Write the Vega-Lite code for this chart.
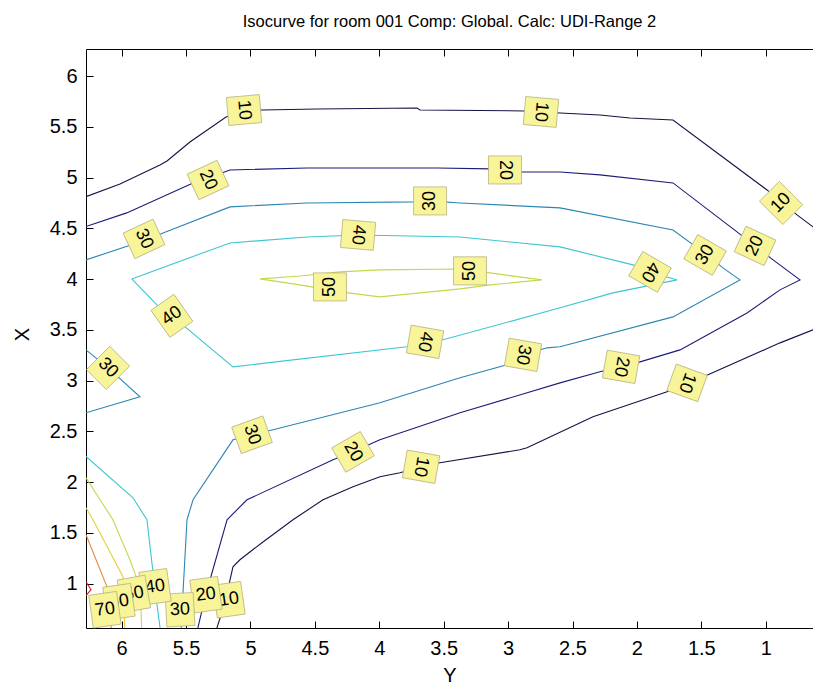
{
  "$schema": "https://vega.github.io/schema/vega-lite/v6.json",
  "width": 727,
  "height": 579,
  "autosize": {"type": "none"},
  "padding": {"left": 86, "top": 49, "right": 0, "bottom": 56},
  "background": "white",
  "config": {
    "view": {"stroke": null},
    "font": "Liberation Sans",
    "axis": {"grid": false, "domainColor": "black", "tickColor": "black", "labelColor": "black", "titleColor": "black", "titleFontWeight": "normal", "labelFont": "Liberation Sans", "titleFont": "Liberation Sans"}
  },
  "title": {"text": "Isocurve for room 001 Comp: Global. Calc: UDI-Range 2", "fontSize": 16.5, "fontWeight": "normal", "color": "black", "anchor": "middle", "baseline": "alphabetic", "offset": 5},
  "datasets": {
    "lines": [
      {"seg":"10a","level":10,"i":0,"Y":6.277,"X":4.812},{"seg":"10a","level":10,"i":1,"Y":6.013,"X":4.937},{"seg":"10a","level":10,"i":2,"Y":5.703,"X":5.124},{"seg":"10a","level":10,"i":3,"Y":5.648,"X":5.163},{"seg":"10a","level":10,"i":4,"Y":5.470,"X":5.350},{"seg":"10a","level":10,"i":5,"Y":5.190,"X":5.596},{"seg":"10a","level":10,"i":6,"Y":5.050,"X":5.656},{"seg":"10a","level":10,"i":7,"Y":4.911,"X":5.665},{"seg":"10a","level":10,"i":8,"Y":4.484,"X":5.675},{"seg":"10a","level":10,"i":9,"Y":3.707,"X":5.685},{"seg":"10a","level":10,"i":10,"Y":3.684,"X":5.665},{"seg":"10a","level":10,"i":11,"Y":2.869,"X":5.656},{"seg":"10a","level":10,"i":12,"Y":2.597,"X":5.636},{"seg":"10a","level":10,"i":13,"Y":2.287,"X":5.616},{"seg":"10a","level":10,"i":14,"Y":2.054,"X":5.587},{"seg":"10a","level":10,"i":15,"Y":1.720,"X":5.567},{"seg":"10a","level":10,"i":16,"Y":1.355,"X":5.222},{"seg":"10a","level":10,"i":17,"Y":0.990,"X":4.878},{"seg":"10a","level":10,"i":18,"Y":0.757,"X":4.632},{"seg":"10a","level":10,"i":19,"Y":0.633,"X":4.514},{"seg":"10a","level":10,"i":20,"Y":0.500,"X":4.387},
      {"seg":"10b","level":10,"i":0,"Y":0.501,"X":3.566},{"seg":"10b","level":10,"i":1,"Y":0.633,"X":3.500},{"seg":"10b","level":10,"i":2,"Y":0.889,"X":3.372},{"seg":"10b","level":10,"i":3,"Y":1.487,"X":3.037},{"seg":"10b","level":10,"i":4,"Y":1.611,"X":2.978},{"seg":"10b","level":10,"i":5,"Y":1.766,"X":2.890},{"seg":"10b","level":10,"i":6,"Y":2.341,"X":2.644},{"seg":"10b","level":10,"i":7,"Y":2.853,"X":2.339},{"seg":"10b","level":10,"i":8,"Y":2.908,"X":2.319},{"seg":"10b","level":10,"i":9,"Y":3.529,"X":2.191},{"seg":"10b","level":10,"i":10,"Y":3.676,"X":2.152},{"seg":"10b","level":10,"i":11,"Y":3.839,"X":2.093},{"seg":"10b","level":10,"i":12,"Y":3.995,"X":2.053},{"seg":"10b","level":10,"i":13,"Y":4.204,"X":1.955},{"seg":"10b","level":10,"i":14,"Y":4.437,"X":1.827},{"seg":"10b","level":10,"i":15,"Y":4.670,"X":1.630},{"seg":"10b","level":10,"i":16,"Y":4.911,"X":1.404},{"seg":"10b","level":10,"i":17,"Y":5.082,"X":1.236},{"seg":"10b","level":10,"i":18,"Y":5.136,"X":1.167},{"seg":"10b","level":10,"i":19,"Y":5.159,"X":1.039},{"seg":"10b","level":10,"i":20,"Y":5.190,"X":0.843},{"seg":"10b","level":10,"i":21,"Y":5.260,"X":0.567},{"seg":"10b","level":10,"i":22,"Y":5.276,"X":0.498},
      {"seg":"20a","level":20,"i":0,"Y":6.277,"X":4.517},{"seg":"20a","level":20,"i":1,"Y":5.961,"X":4.652},{"seg":"20a","level":20,"i":2,"Y":5.446,"X":4.947},{"seg":"20a","level":20,"i":3,"Y":5.330,"X":4.996},{"seg":"20a","level":20,"i":4,"Y":5.159,"X":5.075},{"seg":"20a","level":20,"i":5,"Y":4.561,"X":5.094},{"seg":"20a","level":20,"i":6,"Y":3.552,"X":5.094},{"seg":"20a","level":20,"i":7,"Y":3.141,"X":5.085},{"seg":"20a","level":20,"i":8,"Y":2.908,"X":5.055},{"seg":"20a","level":20,"i":9,"Y":2.597,"X":5.055},{"seg":"20a","level":20,"i":10,"Y":2.287,"X":5.026},{"seg":"20a","level":20,"i":11,"Y":1.720,"X":4.947},{"seg":"20a","level":20,"i":12,"Y":1.223,"X":4.465},{"seg":"20a","level":20,"i":13,"Y":1.083,"X":4.327},{"seg":"20a","level":20,"i":14,"Y":0.943,"X":4.189},{"seg":"20a","level":20,"i":15,"Y":0.734,"X":3.992},{"seg":"20a","level":20,"i":16,"Y":0.889,"X":3.894},{"seg":"20a","level":20,"i":17,"Y":1.145,"X":3.667},{"seg":"20a","level":20,"i":18,"Y":1.665,"X":3.303},{"seg":"20a","level":20,"i":19,"Y":1.976,"X":3.185},{"seg":"20a","level":20,"i":20,"Y":2.123,"X":3.136},{"seg":"20a","level":20,"i":21,"Y":2.287,"X":3.087},{"seg":"20a","level":20,"i":22,"Y":2.597,"X":2.978},{"seg":"20a","level":20,"i":23,"Y":3.373,"X":2.683},{"seg":"20a","level":20,"i":24,"Y":3.995,"X":2.417},{"seg":"20a","level":20,"i":25,"Y":4.204,"X":2.299},{"seg":"20a","level":20,"i":26,"Y":4.359,"X":2.220},{"seg":"20a","level":20,"i":27,"Y":5.027,"X":1.827},{"seg":"20a","level":20,"i":28,"Y":5.182,"X":1.630},{"seg":"20a","level":20,"i":29,"Y":5.314,"X":1.039},{"seg":"20a","level":20,"i":30,"Y":5.353,"X":0.862},{"seg":"20a","level":20,"i":31,"Y":5.408,"X":0.567},{"seg":"20a","level":20,"i":32,"Y":5.423,"X":0.498},
      {"seg":"30a","level":30,"i":0,"Y":6.277,"X":4.189},{"seg":"30a","level":30,"i":1,"Y":5.835,"X":4.376},{"seg":"30a","level":30,"i":2,"Y":5.679,"X":4.455},{"seg":"30a","level":30,"i":3,"Y":5.159,"X":4.711},{"seg":"30a","level":30,"i":4,"Y":4.561,"X":4.750},{"seg":"30a","level":30,"i":5,"Y":3.738,"X":4.760},{"seg":"30a","level":30,"i":6,"Y":3.606,"X":4.770},{"seg":"30a","level":30,"i":7,"Y":3.373,"X":4.750},{"seg":"30a","level":30,"i":8,"Y":2.597,"X":4.701},{"seg":"30a","level":30,"i":9,"Y":1.720,"X":4.484},{"seg":"30a","level":30,"i":10,"Y":1.456,"X":4.238},{"seg":"30a","level":30,"i":11,"Y":1.332,"X":4.110},{"seg":"30a","level":30,"i":12,"Y":1.200,"X":3.992},{"seg":"30a","level":30,"i":13,"Y":1.720,"X":3.628},{"seg":"30a","level":30,"i":14,"Y":2.597,"X":3.333},{"seg":"30a","level":30,"i":15,"Y":2.698,"X":3.323},{"seg":"30a","level":30,"i":16,"Y":2.884,"X":3.254},{"seg":"30a","level":30,"i":17,"Y":3.009,"X":3.156},{"seg":"30a","level":30,"i":18,"Y":3.373,"X":3.028},{"seg":"30a","level":30,"i":19,"Y":3.995,"X":2.782},{"seg":"30a","level":30,"i":20,"Y":4.825,"X":2.516},{"seg":"30a","level":30,"i":21,"Y":4.988,"X":2.467},{"seg":"30a","level":30,"i":22,"Y":5.136,"X":2.417},{"seg":"30a","level":30,"i":23,"Y":5.446,"X":1.827},{"seg":"30a","level":30,"i":24,"Y":5.493,"X":1.630},{"seg":"30a","level":30,"i":25,"Y":5.524,"X":0.911},{"seg":"30a","level":30,"i":26,"Y":5.540,"X":0.498},
      {"seg":"30b","level":30,"i":0,"Y":6.277,"X":3.303},{"seg":"30b","level":30,"i":1,"Y":6.106,"X":3.126},{"seg":"30b","level":30,"i":2,"Y":5.858,"X":2.841},{"seg":"30b","level":30,"i":3,"Y":6.277,"X":2.683},
      {"seg":"40a","level":40,"i":0,"Y":5.922,"X":4.002},{"seg":"40a","level":40,"i":1,"Y":5.159,"X":4.356},{"seg":"40a","level":40,"i":2,"Y":4.561,"X":4.415},{"seg":"40a","level":40,"i":3,"Y":4.165,"X":4.435},{"seg":"40a","level":40,"i":4,"Y":3.373,"X":4.415},{"seg":"40a","level":40,"i":5,"Y":2.597,"X":4.317},{"seg":"40a","level":40,"i":6,"Y":2.030,"X":4.140},{"seg":"40a","level":40,"i":7,"Y":1.898,"X":4.071},{"seg":"40a","level":40,"i":8,"Y":1.689,"X":3.992},{"seg":"40a","level":40,"i":9,"Y":2.186,"X":3.864},{"seg":"40a","level":40,"i":10,"Y":2.597,"X":3.717},{"seg":"40a","level":40,"i":11,"Y":3.505,"X":3.402},{"seg":"40a","level":40,"i":12,"Y":3.645,"X":3.382},{"seg":"40a","level":40,"i":13,"Y":3.785,"X":3.333},{"seg":"40a","level":40,"i":14,"Y":5.136,"X":3.136},{"seg":"40a","level":40,"i":15,"Y":5.610,"X":3.638},{"seg":"40a","level":40,"i":16,"Y":5.726,"X":3.746},{"seg":"40a","level":40,"i":17,"Y":5.922,"X":4.002},
      {"seg":"40b","level":40,"i":0,"Y":6.277,"X":2.253},{"seg":"40b","level":40,"i":1,"Y":5.912,"X":1.846},{"seg":"40b","level":40,"i":2,"Y":5.804,"X":1.630},{"seg":"40b","level":40,"i":3,"Y":5.741,"X":0.941},{"seg":"40b","level":40,"i":4,"Y":5.695,"X":0.498},
      {"seg":"50a","level":50,"i":0,"Y":4.926,"X":4.002},{"seg":"50a","level":50,"i":1,"Y":4.616,"X":4.031},{"seg":"50a","level":50,"i":2,"Y":4.305,"X":4.071},{"seg":"50a","level":50,"i":3,"Y":3.995,"X":4.091},{"seg":"50a","level":50,"i":4,"Y":3.373,"X":4.100},{"seg":"50a","level":50,"i":5,"Y":3.141,"X":4.061},{"seg":"50a","level":50,"i":6,"Y":2.737,"X":3.992},{"seg":"50a","level":50,"i":7,"Y":3.141,"X":3.943},{"seg":"50a","level":50,"i":8,"Y":3.373,"X":3.904},{"seg":"50a","level":50,"i":9,"Y":3.995,"X":3.825},{"seg":"50a","level":50,"i":10,"Y":4.305,"X":3.874},{"seg":"50a","level":50,"i":11,"Y":4.616,"X":3.943},{"seg":"50a","level":50,"i":12,"Y":4.926,"X":4.002},
      {"seg":"50b","level":50,"i":0,"Y":6.277,"X":2.043},{"seg":"50b","level":50,"i":1,"Y":6.068,"X":1.630},{"seg":"50b","level":50,"i":2,"Y":5.936,"X":1.236},{"seg":"50b","level":50,"i":3,"Y":5.858,"X":0.970},{"seg":"50b","level":50,"i":4,"Y":5.842,"X":0.498},
      {"seg":"60a","level":60,"i":0,"Y":6.277,"X":1.748},{"seg":"60a","level":60,"i":1,"Y":6.223,"X":1.630},{"seg":"60a","level":60,"i":2,"Y":5.990,"X":1.069},{"seg":"60a","level":60,"i":3,"Y":5.974,"X":0.498},
      {"seg":"70a","level":70,"i":0,"Y":6.277,"X":1.482},{"seg":"70a","level":70,"i":1,"Y":6.114,"X":0.970},{"seg":"70a","level":70,"i":2,"Y":6.075,"X":0.498},
      {"seg":"80a","level":80,"i":0,"Y":6.277,"X":1.020},{"seg":"80a","level":80,"i":1,"Y":6.238,"X":0.941},{"seg":"80a","level":80,"i":2,"Y":6.277,"X":0.882}
    ],
    "labels": [
      {"level":10,"label":"10","Y":5.050,"X":5.665,"angle":85},
      {"level":10,"label":"10","Y":2.745,"X":5.646,"angle":95},
      {"level":10,"label":"10","Y":0.881,"X":4.750,"angle":-45},
      {"level":10,"label":"10","Y":1.611,"X":2.978,"angle":110},
      {"level":10,"label":"10","Y":3.676,"X":2.152,"angle":100},
      {"level":10,"label":"10","Y":5.167,"X":0.843,"angle":-8},
      {"level":20,"label":"20","Y":5.330,"X":4.976,"angle":65},
      {"level":20,"label":"20","Y":3.024,"X":5.075,"angle":90},
      {"level":20,"label":"20","Y":1.083,"X":4.327,"angle":-65},
      {"level":20,"label":"20","Y":2.123,"X":3.136,"angle":100},
      {"level":20,"label":"20","Y":4.204,"X":2.299,"angle":60},
      {"level":20,"label":"20","Y":5.346,"X":0.892,"angle":-8},
      {"level":30,"label":"30","Y":5.827,"X":4.396,"angle":65},
      {"level":30,"label":"30","Y":3.606,"X":4.770,"angle":-90},
      {"level":30,"label":"30","Y":1.471,"X":4.238,"angle":-60},
      {"level":30,"label":"30","Y":2.884,"X":3.254,"angle":100},
      {"level":30,"label":"30","Y":4.988,"X":2.467,"angle":70},
      {"level":30,"label":"30","Y":6.106,"X":3.126,"angle":45},
      {"level":30,"label":"30","Y":5.547,"X":0.744,"angle":-3},
      {"level":40,"label":"40","Y":4.165,"X":4.435,"angle":95},
      {"level":40,"label":"40","Y":1.898,"X":4.071,"angle":120},
      {"level":40,"label":"40","Y":3.645,"X":3.382,"angle":100},
      {"level":40,"label":"40","Y":5.610,"X":3.638,"angle":-35},
      {"level":40,"label":"40","Y":5.741,"X":0.970,"angle":-8},
      {"level":50,"label":"50","Y":4.383,"X":3.923,"angle":-90},
      {"level":50,"label":"50","Y":3.296,"X":4.081,"angle":-90},
      {"level":50,"label":"50","Y":5.905,"X":0.900,"angle":-10},
      {"level":60,"label":"60","Y":6.021,"X":0.823,"angle":-8},
      {"level":70,"label":"70","Y":6.130,"X":0.744,"angle":-8}
    ]
  },
  "resolve": {"axis": {"x": "independent"}},
  "layer": [
    {
      "data": {"name": "lines"},
      "mark": {"type": "line", "clip": true, "strokeWidth": 1.1},
      "encoding": {
        "x": {"field": "Y", "type": "quantitative", "scale": {"domain": [0.633, 6.277], "reverse": true, "nice": false, "zero": false},
              "axis": {"orient": "bottom", "values": [1, 1.5, 2, 2.5, 3, 3.5, 4, 4.5, 5, 5.5, 6], "format": "~g", "tickSize": -7, "labelFontSize": 20, "labelPadding": 17, "labelFlush": false, "labelOverlap": false, "title": "Y", "titleFontSize": 20, "titleY": 47, "titleBaseline": "middle"}},
        "y": {"field": "X", "type": "quantitative", "scale": {"domain": [0.564, 6.266], "nice": false, "zero": false},
              "axis": {"values": [1, 1.5, 2, 2.5, 3, 3.5, 4, 4.5, 5, 5.5, 6], "format": "~g", "tickSize": -7, "labelFontSize": 20, "labelPadding": 16, "labelFlush": false, "labelOverlap": false, "title": "X", "titleFontSize": 20, "titleX": -64, "titleY": 285, "titleAngle": -90, "titleBaseline": "middle", "titleAlign": "center"}},
        "color": {"field": "level", "type": "nominal", "scale": {"domain": [10, 20, 30, 40, 50, 60, 70, 80], "range": ["#141446", "#1c1c78", "#2b86b2", "#3cc6d0", "#c4d84a", "#e6cf3a", "#e2893a", "#cc2222"]}, "legend": null},
        "detail": {"field": "seg"},
        "order": {"field": "i", "type": "quantitative"}
      }
    },
    {
      "data": {"name": "labels"},
      "mark": {"type": "point", "opacity": 0},
      "encoding": {
        "x": {"field": "Y", "type": "quantitative", "axis": {"orient": "top", "values": [1, 1.5, 2, 2.5, 3, 3.5, 4, 4.5, 5, 5.5, 6], "tickSize": -7, "labels": false, "title": null}},
        "y": {"field": "X", "type": "quantitative"}
      }
    },
    {"data": {"name": "labels"}, "transform": [{"filter": "datum.level == 10"}], "mark": {"type": "point", "filled": true, "shape": "M-0.85,-1H0.85V1H-0.85Z", "size": 1089, "fill": "#f8f49a", "stroke": "#b9b47e", "strokeWidth": 0.8, "opacity": 1}, "encoding": {"x": {"field": "Y", "type": "quantitative", "axis": null}, "y": {"field": "X", "type": "quantitative"}, "angle": {"field": "angle", "type": "quantitative", "scale": null}}},
    {"data": {"name": "labels"}, "transform": [{"filter": "datum.level == 10"}], "mark": {"type": "text", "fontSize": 18, "color": "black", "align": "center", "baseline": "middle"}, "encoding": {"x": {"field": "Y", "type": "quantitative", "axis": null}, "y": {"field": "X", "type": "quantitative"}, "angle": {"field": "angle", "type": "quantitative", "scale": null}, "text": {"field": "label"}}},
    {"data": {"name": "labels"}, "transform": [{"filter": "datum.level == 20"}], "mark": {"type": "point", "filled": true, "shape": "M-0.85,-1H0.85V1H-0.85Z", "size": 1089, "fill": "#f8f49a", "stroke": "#b9b47e", "strokeWidth": 0.8, "opacity": 1}, "encoding": {"x": {"field": "Y", "type": "quantitative", "axis": null}, "y": {"field": "X", "type": "quantitative"}, "angle": {"field": "angle", "type": "quantitative", "scale": null}}},
    {"data": {"name": "labels"}, "transform": [{"filter": "datum.level == 20"}], "mark": {"type": "text", "fontSize": 18, "color": "black", "align": "center", "baseline": "middle"}, "encoding": {"x": {"field": "Y", "type": "quantitative", "axis": null}, "y": {"field": "X", "type": "quantitative"}, "angle": {"field": "angle", "type": "quantitative", "scale": null}, "text": {"field": "label"}}},
    {"data": {"name": "labels"}, "transform": [{"filter": "datum.level == 30"}], "mark": {"type": "point", "filled": true, "shape": "M-0.85,-1H0.85V1H-0.85Z", "size": 1089, "fill": "#f8f49a", "stroke": "#b9b47e", "strokeWidth": 0.8, "opacity": 1}, "encoding": {"x": {"field": "Y", "type": "quantitative", "axis": null}, "y": {"field": "X", "type": "quantitative"}, "angle": {"field": "angle", "type": "quantitative", "scale": null}}},
    {"data": {"name": "labels"}, "transform": [{"filter": "datum.level == 30"}], "mark": {"type": "text", "fontSize": 18, "color": "black", "align": "center", "baseline": "middle"}, "encoding": {"x": {"field": "Y", "type": "quantitative", "axis": null}, "y": {"field": "X", "type": "quantitative"}, "angle": {"field": "angle", "type": "quantitative", "scale": null}, "text": {"field": "label"}}},
    {"data": {"name": "labels"}, "transform": [{"filter": "datum.level == 40"}], "mark": {"type": "point", "filled": true, "shape": "M-0.85,-1H0.85V1H-0.85Z", "size": 1089, "fill": "#f8f49a", "stroke": "#b9b47e", "strokeWidth": 0.8, "opacity": 1}, "encoding": {"x": {"field": "Y", "type": "quantitative", "axis": null}, "y": {"field": "X", "type": "quantitative"}, "angle": {"field": "angle", "type": "quantitative", "scale": null}}},
    {"data": {"name": "labels"}, "transform": [{"filter": "datum.level == 40"}], "mark": {"type": "text", "fontSize": 18, "color": "black", "align": "center", "baseline": "middle"}, "encoding": {"x": {"field": "Y", "type": "quantitative", "axis": null}, "y": {"field": "X", "type": "quantitative"}, "angle": {"field": "angle", "type": "quantitative", "scale": null}, "text": {"field": "label"}}},
    {"data": {"name": "labels"}, "transform": [{"filter": "datum.level == 50"}], "mark": {"type": "point", "filled": true, "shape": "M-0.85,-1H0.85V1H-0.85Z", "size": 1089, "fill": "#f8f49a", "stroke": "#b9b47e", "strokeWidth": 0.8, "opacity": 1}, "encoding": {"x": {"field": "Y", "type": "quantitative", "axis": null}, "y": {"field": "X", "type": "quantitative"}, "angle": {"field": "angle", "type": "quantitative", "scale": null}}},
    {"data": {"name": "labels"}, "transform": [{"filter": "datum.level == 50"}], "mark": {"type": "text", "fontSize": 18, "color": "black", "align": "center", "baseline": "middle"}, "encoding": {"x": {"field": "Y", "type": "quantitative", "axis": null}, "y": {"field": "X", "type": "quantitative"}, "angle": {"field": "angle", "type": "quantitative", "scale": null}, "text": {"field": "label"}}},
    {"data": {"name": "labels"}, "transform": [{"filter": "datum.level == 60"}], "mark": {"type": "point", "filled": true, "shape": "M-0.85,-1H0.85V1H-0.85Z", "size": 1089, "fill": "#f8f49a", "stroke": "#b9b47e", "strokeWidth": 0.8, "opacity": 1}, "encoding": {"x": {"field": "Y", "type": "quantitative", "axis": null}, "y": {"field": "X", "type": "quantitative"}, "angle": {"field": "angle", "type": "quantitative", "scale": null}}},
    {"data": {"name": "labels"}, "transform": [{"filter": "datum.level == 60"}], "mark": {"type": "text", "fontSize": 18, "color": "black", "align": "center", "baseline": "middle"}, "encoding": {"x": {"field": "Y", "type": "quantitative", "axis": null}, "y": {"field": "X", "type": "quantitative"}, "angle": {"field": "angle", "type": "quantitative", "scale": null}, "text": {"field": "label"}}},
    {"data": {"name": "labels"}, "transform": [{"filter": "datum.level == 70"}], "mark": {"type": "point", "filled": true, "shape": "M-0.85,-1H0.85V1H-0.85Z", "size": 1089, "fill": "#f8f49a", "stroke": "#b9b47e", "strokeWidth": 0.8, "opacity": 1}, "encoding": {"x": {"field": "Y", "type": "quantitative", "axis": null}, "y": {"field": "X", "type": "quantitative"}, "angle": {"field": "angle", "type": "quantitative", "scale": null}}},
    {"data": {"name": "labels"}, "transform": [{"filter": "datum.level == 70"}], "mark": {"type": "text", "fontSize": 18, "color": "black", "align": "center", "baseline": "middle"}, "encoding": {"x": {"field": "Y", "type": "quantitative", "axis": null}, "y": {"field": "X", "type": "quantitative"}, "angle": {"field": "angle", "type": "quantitative", "scale": null}, "text": {"field": "label"}}}
  ]
}
